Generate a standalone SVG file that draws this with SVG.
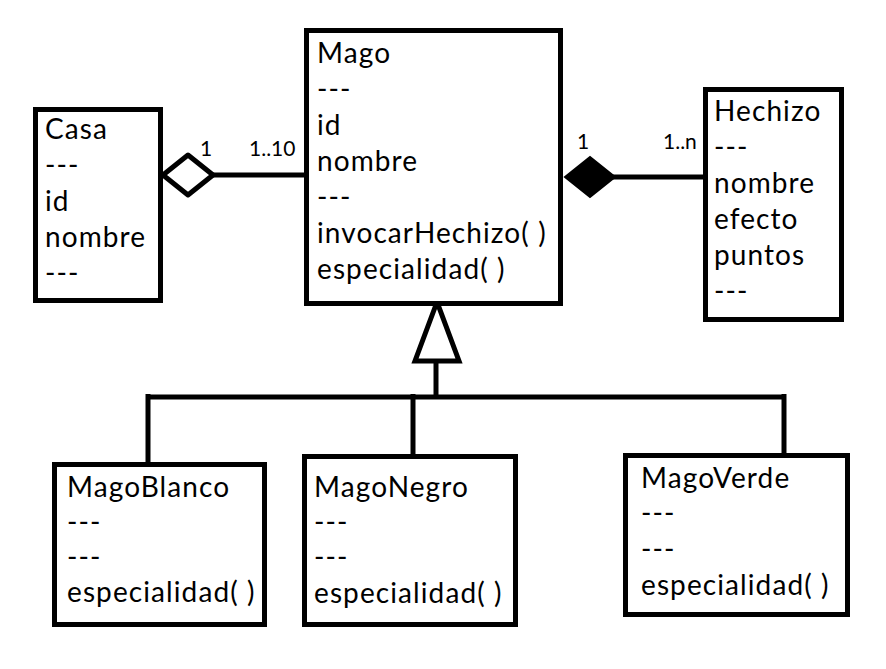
<svg xmlns="http://www.w3.org/2000/svg" width="886" height="669" viewBox="0 0 886 669">
<style>
.box{fill:#fff;stroke:#000;stroke-width:5}
.t{font-family:Lato,"Liberation Sans",sans-serif;font-size:28px;letter-spacing:1.1px;fill:#000}
.s{font-family:Lato,"Liberation Sans",sans-serif;font-size:21px;fill:#000}
.ln{stroke:#000;stroke-width:5;fill:none}
</style>
<rect width="886" height="669" fill="#fff"/>
<g id="connectors">
<line class="ln" x1="211" y1="175" x2="306" y2="175"/>
<path d="M163,175 L188,155 L213,175 L188,195 Z" fill="#fff" stroke="#000" stroke-width="5" stroke-linejoin="round"/>
<line class="ln" x1="613" y1="177" x2="706" y2="177"/>
<path d="M565,177 L590,157 L615,177 L590,197 Z" fill="#000" stroke="#000" stroke-width="2"/>
<line class="ln" x1="436" y1="361" x2="436" y2="397"/>
<path d="M437,302 L415,361 L459,361 Z" fill="#fff" stroke="#000" stroke-width="5"/>
<line class="ln" x1="148" y1="397" x2="786" y2="397"/>
<line class="ln" x1="148" y1="394" x2="148" y2="464"/>
<line class="ln" x1="413" y1="394" x2="413" y2="456"/>
<line class="ln" x1="784" y1="394" x2="784" y2="455"/>
<text class="s" x="200" y="156">1</text>
<text class="s" x="249" y="156">1..10</text>
<text class="s" x="577" y="149">1</text>
<text class="s" x="663" y="149">1..n</text>
</g>
<g id="casa">
<rect class="box" x="35.5" y="109.5" width="125" height="191"/>
<text class="t" x="45" y="139">Casa</text>
<text class="t" x="45" y="175">---</text>
<text class="t" x="45" y="211">id</text>
<text class="t" x="45" y="247">nombre</text>
<text class="t" x="45" y="283">---</text>
</g>
<g id="mago">
<rect class="box" x="306.5" y="30.5" width="254" height="273"/>
<text class="t" x="317" y="63">Mago</text>
<text class="t" x="317" y="99">---</text>
<text class="t" x="317" y="135">id</text>
<text class="t" x="317" y="171">nombre</text>
<text class="t" x="317" y="207">---</text>
<text class="t" x="317" y="243">invocarHechizo( )</text>
<text class="t" x="317" y="279">especialidad( )</text>
</g>
<g id="hechizo">
<rect class="box" x="705.5" y="89.5" width="136" height="230"/>
<text class="t" x="714" y="121">Hechizo</text>
<text class="t" x="714" y="157">---</text>
<text class="t" x="714" y="193">nombre</text>
<text class="t" x="714" y="229">efecto</text>
<text class="t" x="714" y="265">puntos</text>
<text class="t" x="714" y="301">---</text>
</g>
<g id="magoblanco">
<rect class="box" x="54.5" y="464.5" width="210" height="160"/>
<text class="t" x="67" y="497">MagoBlanco</text>
<text class="t" x="67" y="532">---</text>
<text class="t" x="67" y="567">---</text>
<text class="t" x="67" y="602">especialidad( )</text>
</g>
<g id="magonegro">
<rect class="box" x="304.5" y="456.5" width="211" height="168"/>
<text class="t" x="314" y="497">MagoNegro</text>
<text class="t" x="314" y="532">---</text>
<text class="t" x="314" y="567">---</text>
<text class="t" x="314" y="603">especialidad( )</text>
</g>
<g id="magoverde">
<rect class="box" x="625.5" y="455.5" width="222" height="159"/>
<text class="t" x="641" y="488">MagoVerde</text>
<text class="t" x="641" y="523">---</text>
<text class="t" x="641" y="559">---</text>
<text class="t" x="641" y="595">especialidad( )</text>
</g>
</svg>
